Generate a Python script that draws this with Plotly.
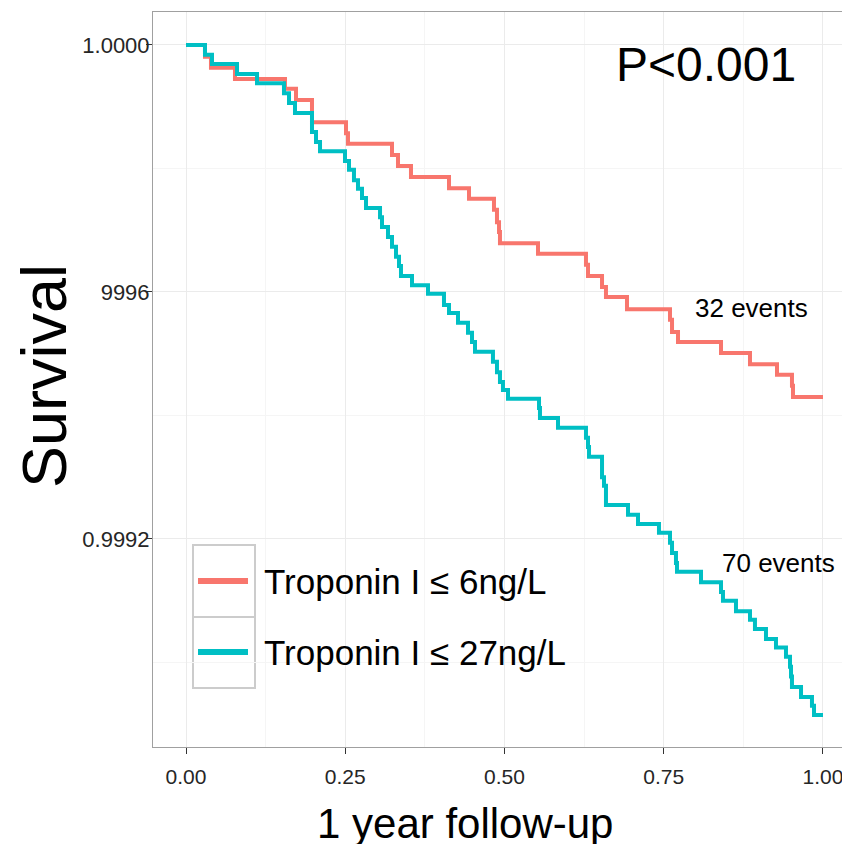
import plotly.graph_objects as go

# ---- data ----
red_name = "Troponin I ≤ 6ng/L"
teal_name = "Troponin I ≤ 27ng/L"

red_time = [0.0, 0.0298, 0.0392, 0.0769, 0.1554, 0.1727, 0.1978, 0.2512, 0.2543, 0.3234,
            0.3328, 0.3532, 0.4129, 0.4443, 0.4835, 0.4882, 0.4914, 0.4929, 0.5526, 0.6279,
            0.6311, 0.6531, 0.6593, 0.6923, 0.7598, 0.7630, 0.7724, 0.8399, 0.8854, 0.9278,
            0.9513, 0.9529, 1.0]
red_surv = [1.0, 0.999981, 0.999963, 0.999945, 0.999929, 0.999911, 0.999875, 0.999857, 0.999840, 0.999822,
            0.999804, 0.999786, 0.999768, 0.999751, 0.999733, 0.999713, 0.999697, 0.999679, 0.999662, 0.999644,
            0.999626, 0.999608, 0.999592, 0.999572, 0.999555, 0.999535, 0.999519, 0.999501, 0.999483, 0.999466,
            0.999448, 0.999430, 0.999430]

teal_time = [0.0, 0.0298, 0.0408, 0.0801, 0.1115, 0.1538, 0.1617, 0.1711, 0.1978, 0.2041, 0.2104,
             0.2496, 0.2559, 0.2637, 0.2700, 0.2763, 0.2826, 0.3046, 0.3077, 0.3171, 0.3234,
             0.3297, 0.3344, 0.3375, 0.3548, 0.3799, 0.4050, 0.4129, 0.4270, 0.4427, 0.4490,
             0.4537, 0.4819, 0.4882, 0.4929, 0.4976, 0.5055, 0.5542, 0.5557, 0.5840, 0.6279,
             0.6311, 0.6327, 0.6531, 0.6562, 0.6593, 0.6939, 0.7096, 0.7425, 0.7598, 0.7630,
             0.7692, 0.7708, 0.8085, 0.8399, 0.8430, 0.8634, 0.8854, 0.8932, 0.9105, 0.9262,
             0.9419, 0.9482, 0.9498, 0.9513, 0.9655, 0.9827, 0.9859, 1.0]
teal_surv = [1.0, 0.999984, 0.999969, 0.999953, 0.999938, 0.999922, 0.999906, 0.999890, 0.999859, 0.999843, 0.999828,
             0.999812, 0.999798, 0.999781, 0.999767, 0.999752, 0.999736, 0.999721, 0.999705, 0.999689, 0.999673,
             0.999657, 0.999642, 0.999626, 0.999611, 0.999597, 0.999579, 0.999566, 0.999550, 0.999534, 0.999519,
             0.999503, 0.999487, 0.999470, 0.999454, 0.999441, 0.999427, 0.999412, 0.999396, 0.999380, 0.999364,
             0.999349, 0.999333, 0.999300, 0.999286, 0.999255, 0.999239, 0.999224, 0.999210, 0.999194, 0.999177,
             0.999161, 0.999147, 0.999130, 0.999114, 0.999100, 0.999083, 0.999069, 0.999054, 0.999038, 0.999024,
             0.999009, 0.998993, 0.998977, 0.998960, 0.998944, 0.998930, 0.998915, 0.998915]

x_ticks = [0.0, 0.25, 0.5, 0.75, 1.0]
x_ticklabels = ["0.00", "0.25", "0.50", "0.75", "1.00"]
y_ticks = [1.0, 0.9996, 0.9992]
y_ticklabels = ["1.0000", "9996", "0.9992"]

p_label = "P<0.001"
red_events_label = "32 events"
teal_events_label = "70 events"

RED = "#F8766D"
TEAL = "#00BFC4"
FONT = "Liberation Sans, Arial, sans-serif"
NARROW = "Liberation Sans Narrow, Arial Narrow, Liberation Sans, Arial, sans-serif"

fig = go.Figure()
fig.add_trace(go.Scatter(x=red_time, y=red_surv, mode="lines", name=red_name,
                         line=dict(color=RED, width=4, shape="hv")))
fig.add_trace(go.Scatter(x=teal_time, y=teal_surv, mode="lines", name=teal_name,
                         line=dict(color=TEAL, width=4, shape="hv")))

# page body has an 8px margin, so the figure is 8px smaller than the window
fig.update_layout(
    width=842, height=836,
    margin=dict(l=145, r=0, t=4, b=97),
    plot_bgcolor="white", paper_bgcolor="white",
    showlegend=False,
    font=dict(family=FONT, color="#222222"),
)

fig.update_xaxes(
    range=[-0.0518, 1.0424],
    tickvals=x_ticks, ticktext=x_ticklabels,
    tickfont=dict(family=FONT, size=21, color="#262626"),
    ticks="outside", ticklen=6, tickcolor="#333333", tickwidth=1,
    ticklabelstandoff=5,
    showline=True, linecolor="#A0A0A0", linewidth=1, mirror=True,
    showgrid=True, gridcolor="#EBEBEB", gridwidth=1.2, zeroline=False,
    minor=dict(tickvals=[0.125, 0.375, 0.625, 0.875], showgrid=True,
               gridcolor="#F5F5F5", gridwidth=1, ticks=""),
)
fig.update_yaxes(
    range=[0.998863, 1.0000534],
    tickvals=y_ticks, ticktext=y_ticklabels,
    tickfont=dict(family=FONT, size=22, color="#262626"),
    ticks="outside", ticklen=6, tickcolor="#333333", tickwidth=1,
    ticklabelstandoff=-8,
    showline=True, linecolor="#A0A0A0", linewidth=1, mirror=False,
    showgrid=True, gridcolor="#EBEBEB", gridwidth=1.2, zeroline=False,
    minor=dict(tickvals=[0.9998, 0.9994, 0.9990], showgrid=True,
               gridcolor="#F5F5F5", gridwidth=1, ticks=""),
)

# ---- legend drawn as a boxed key, like the reference ----
def px_x(p):
    return (p - 153) / 697.0

def px_y(p):
    return (747 - p) / 735.0

shapes = [
    dict(type="rect", xref="paper", yref="paper", x0=px_x(177), x1=px_x(568), y0=px_y(720), y1=px_y(513),
         fillcolor="white", line=dict(width=0), layer="between"),
    dict(type="rect", xref="paper", yref="paper", x0=px_x(193), x1=px_x(255), y0=px_y(617), y1=px_y(545),
         fillcolor="white", line=dict(color="#CCCCCC", width=2), layer="between"),
    dict(type="rect", xref="paper", yref="paper", x0=px_x(193), x1=px_x(255), y0=px_y(688), y1=px_y(617),
         fillcolor="white", line=dict(color="#CCCCCC", width=2), layer="between"),
    dict(type="line", xref="paper", yref="paper", x0=px_x(198), x1=px_x(248), y0=px_y(581), y1=px_y(581),
         line=dict(color=RED, width=6), layer="above"),
    dict(type="line", xref="paper", yref="paper", x0=px_x(198), x1=px_x(248), y0=px_y(652), y1=px_y(652),
         line=dict(color=TEAL, width=6), layer="above"),
]
fig.update_layout(shapes=shapes)

annotations = [
    dict(text=red_name, xref="paper", yref="paper", x=px_x(262), y=px_y(581), xanchor="left", yanchor="middle",
         showarrow=False, font=dict(family=NARROW, size=35, color="#000000")),
    dict(text=teal_name, xref="paper", yref="paper", x=px_x(262), y=px_y(652), xanchor="left", yanchor="middle",
         showarrow=False, font=dict(family=NARROW, size=35, color="#000000")),
    dict(text=p_label, xref="x", yref="y", x=0.816, y=0.999969, xanchor="center", yanchor="middle",
         showarrow=False, font=dict(family=FONT, size=48, color="#000000")),
    dict(text=red_events_label, xref="x", yref="y", x=0.887, y=0.999574, xanchor="center", yanchor="middle",
         showarrow=False, font=dict(family=FONT, size=26, color="#000000")),
    dict(text=teal_events_label, xref="x", yref="y", x=0.930, y=0.999161, xanchor="center", yanchor="middle",
         showarrow=False, font=dict(family=FONT, size=26, color="#000000")),
    dict(text="Survival", xref="paper", yref="paper", x=px_x(44), y=px_y(376), xanchor="center", yanchor="middle",
         textangle=-90, showarrow=False, font=dict(family=FONT, size=63, color="#000000")),
    dict(text="1 year follow-up", xref="paper", yref="paper", x=px_x(465), y=px_y(823), xanchor="center",
         yanchor="middle", showarrow=False, font=dict(family=FONT, size=42, color="#000000")),
]
fig.update_layout(annotations=annotations)

fig.write_html("out.html")
